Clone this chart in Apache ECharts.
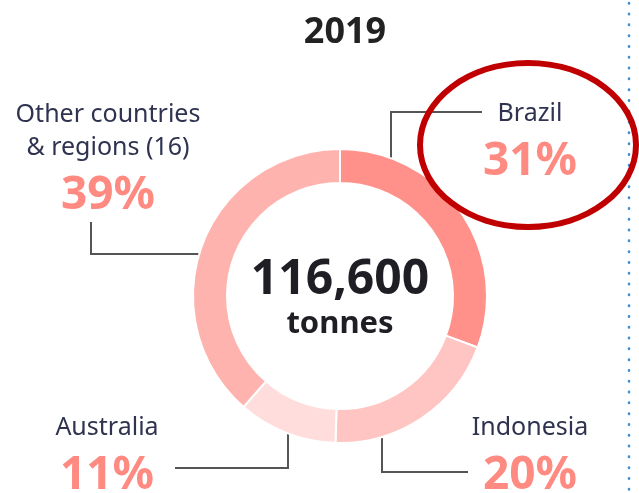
<!DOCTYPE html>
<html>

<head>
    <meta charset="utf-8">
    <title>2019 donut</title>
    <script src="https://cdn.jsdelivr.net/npm/echarts@6/dist/echarts.min.js"></script>
    <style>
        html, body { margin: 0; padding: 0; background: #fff; }
    </style>
</head>

<body>
    <div id="main" style="width: 639px;height:493px;"></div>
    <script type="text/javascript">
        // data
        var names = ['Brazil', 'Indonesia', 'Australia', 'Other countries\n& regions (16)'];
        var shares = [31, 20, 11, 39];
        var colors = ['#FF918A', '#FFC5C2', '#FFDDDC', '#FFB3AE'];
        var total = 116600;
        var year = '2019';

        // where each label sits (top centre) and its leader line
        var labelPos = [
            { x: 530, y: 97, line: [[391, 173], [391, 112], [482, 112]] },
            { x: 530, y: 411, line: [[382, 425], [382, 472], [468, 472]] },
            { x: 107, y: 411, line: [[288, 423], [288, 468], [175, 468]] },
            { x: 108, y: 98, line: [[210, 254], [91, 254], [91, 222]] }
        ];

        var myChart = echarts.init(document.getElementById('main'));
        var font = '"Noto Sans", sans-serif';

        var data = [];
        for (var i = 0; i < names.length; i++) {
            data.push({ name: names[i], value: shares[i], itemStyle: { color: colors[i] } });
        }

        option = {
            animation: false,
            title: {
                text: year,
                left: 340,
                top: 10,
                textAlign: 'center',
                textStyle: { fontFamily: font, fontSize: 36, fontWeight: 'bold', color: '#222' }
            },
            graphic: [{
                type: 'text',
                style: {
                    text: total.toLocaleString('en-US'),
                    x: 340, y: 280,
                    textAlign: 'center', textVerticalAlign: 'middle',
                    font: 'bold 48px ' + font, fill: '#1e1e24'
                }
            }, {
                type: 'text',
                style: {
                    text: 'tonnes',
                    x: 340, y: 324,
                    textAlign: 'center', textVerticalAlign: 'middle',
                    font: 'bold 31px ' + font, fill: '#1e1e24'
                }
            }, {
                type: 'ellipse',
                shape: { cx: 528, cy: 145, rx: 108, ry: 82 },
                style: { fill: 'none', stroke: '#C00000', lineWidth: 6 },
                z: 10
            }, {
                type: 'line',
                shape: { x1: 629, y1: 3, x2: 629, y2: 493 },
                style: { stroke: '#3D8FD1', lineWidth: 2.5, lineDash: [0.5, 10.3], lineCap: 'round' }
            }],
            series: [{
                type: 'pie',
                center: [340, 296],
                radius: [113, 147],
                startAngle: 90,
                clockwise: true,
                silent: true,
                data: data,
                itemStyle: { borderColor: '#fff', borderWidth: 2 },
                label: {
                    show: true,
                    position: 'outside',
                    overflow: 'none',
                    formatter: function (p) {
                        return '{n|' + p.name.split('\n').join('}\n{n|') + '}\n{p|' + p.value + '%}';
                    },
                    rich: {
                        n: { fontFamily: font, fontSize: 25, lineHeight: 33, color: '#2f3350', align: 'center' },
                        p: { fontFamily: font, fontSize: 46, lineHeight: 63, fontWeight: 'bold', color: '#FF8A82', align: 'center' }
                    }
                },
                labelLine: {
                    show: true,
                    lineStyle: { color: '#555', width: 2 }
                },
                labelLayout: function (params) {
                    var lp = labelPos[params.dataIndex];
                    return {
                        x: lp.x,
                        y: lp.y,
                        align: 'center',
                        verticalAlign: 'top',
                        labelLinePoints: lp.line
                    };
                }
            }]
        };

        myChart.setOption(option);
    </script>
</body>

</html>
